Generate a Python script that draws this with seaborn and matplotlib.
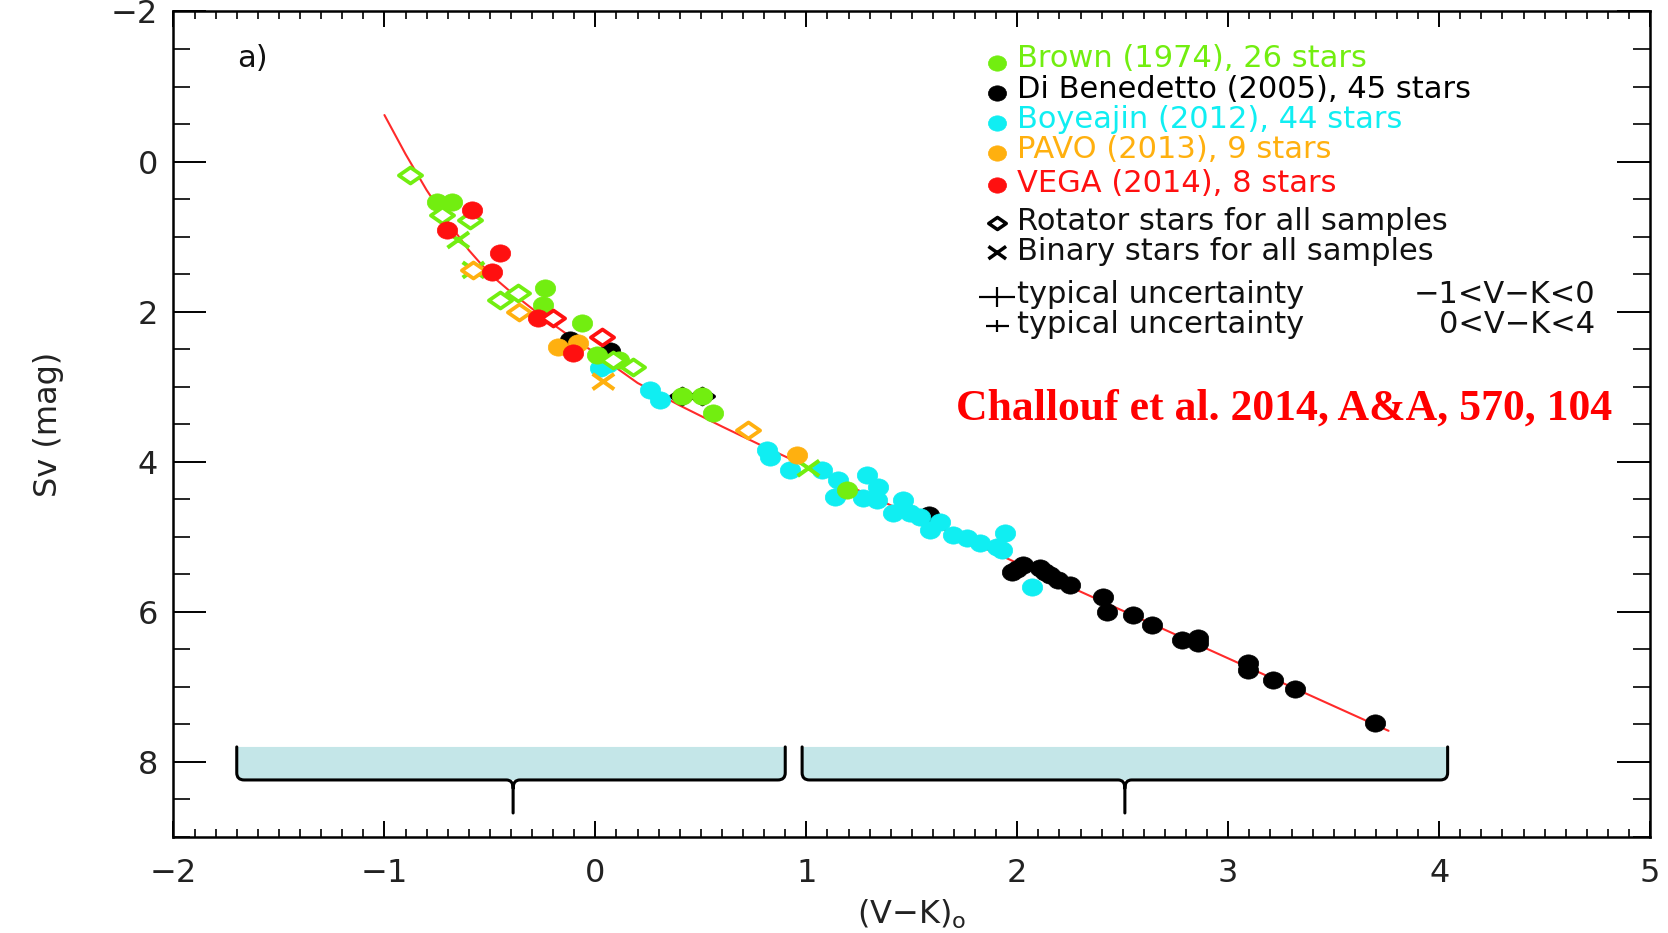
import numpy as np
import matplotlib
matplotlib.use("Agg")
import matplotlib.pyplot as plt
from matplotlib.path import Path
from matplotlib.patches import PathPatch
from matplotlib.markers import MarkerStyle
from matplotlib.ticker import MultipleLocator, FixedLocator
import seaborn as sns

# ---------------- data ----------------
# surface-brightness relation (fit curve)
fit_vk = [-1.00, -0.90, -0.80, -0.70, -0.60, -0.50, -0.40, -0.30, -0.20, -0.10,
          0.00, 0.20, 0.40, 0.60, 0.80, 1.00, 1.50, 2.00, 2.50, 3.00, 3.50, 3.76]
fit_sv = [-0.62, -0.10, 0.38, 0.80, 1.18, 1.50, 1.74, 1.96, 2.17, 2.37,
          2.55, 2.95, 3.25, 3.53, 3.80, 4.06, 4.71, 5.35, 5.985, 6.62, 7.255, 7.585]

# Brown (1974)
brown_x = [-0.752, -0.681, -0.238, -0.249, -0.064, 0.007, 0.110, 0.410, 0.504, 0.559, 1.191]
brown_y = [0.534, 0.534, 1.688, 1.911, 2.155, 2.577, 2.640, 3.123, 3.123, 3.354, 4.376]
brown_rot_x = [-0.878, -0.728, -0.594, -0.450, -0.366, 0.085, 0.180]
brown_rot_y = [0.179, 0.712, 0.778, 1.840, 1.750, 2.643, 2.733]
brown_bin_x = [-0.650, -0.578, 1.010]
brown_bin_y = [1.045, 1.444, 4.087]

# Di Benedetto (2005)
dib_x = [-0.120, 0.070, 1.580, 1.974, 2.000, 2.029, 2.108, 2.130, 2.156, 2.195, 2.250,
         2.408, 2.424, 2.550, 2.638, 2.780, 2.859, 2.859, 3.096, 3.096, 3.214, 3.317, 3.696]
dib_y = [2.380, 2.530, 4.710, 5.464, 5.430, 5.375, 5.420, 5.470, 5.508, 5.575, 5.640,
         5.797, 5.997, 6.041, 6.175, 6.374, 6.352, 6.418, 6.685, 6.774, 6.907, 7.031, 7.476]
dib_rot_x = [0.410, 0.504]
dib_rot_y = [3.123, 3.123]

# Boyajian (2012)
boy_x = [0.022, 0.060, 0.259, 0.306, 0.813, 0.828, 0.923, 1.073, 1.152, 1.136, 1.287,
         1.342, 1.270, 1.334, 1.460, 1.413, 1.492, 1.539, 1.634, 1.586, 1.697, 1.761,
         1.824, 1.903, 1.942, 1.927, 2.069]
boy_y = [2.754, 2.700, 3.044, 3.177, 3.843, 3.932, 4.110, 4.110, 4.243, 4.465, 4.176,
         4.332, 4.487, 4.509, 4.509, 4.686, 4.686, 4.731, 4.798, 4.909, 4.975, 5.020,
         5.086, 5.131, 4.953, 5.175, 5.664]

# PAVO (2013)
pavo_x = [-0.175, -0.081, 0.955]
pavo_y = [2.466, 2.421, 3.909]
pavo_rot_x = [-0.578, -0.360, 0.725]
pavo_rot_y = [1.444, 2.000, 3.576]
pavo_bin_x = [0.038]
pavo_bin_y = [2.932]

# VEGA (2014)
vega_x = [-0.586, -0.705, -0.452, -0.491, -0.270, -0.104]
vega_y = [0.645, 0.911, 1.222, 1.467, 2.088, 2.554]
vega_rot_x = [-0.199, 0.030]
vega_rot_y = [2.088, 2.333]

# key
key_labels = ["Brown (1974), 26 stars", "Di Benedetto (2005), 45 stars",
              "Boyeajin (2012), 44 stars", "PAVO (2013), 9 stars", "VEGA (2014), 8 stars"]
key_text_y = [-1.257, -0.843, -0.444, -0.044, 0.401]
key_mark_y = [-1.31, -0.91, -0.51, -0.11, 0.312]
flag_labels = ["Rotator stars for all samples", "Binary stars for all samples"]
flag_text_y = [0.911, 1.311]
flag_mark_y = [0.814, 1.214]
unc_ranges = ["\u22121<V\u2212K<0", "0<V\u2212K<4"]
unc_text_y = [1.888, 2.280]
unc_mark_y = [1.800, 2.190]
unc_dx = [0.085, 0.055]
unc_dy = [0.133, 0.075]

# V-K ranges of the two relations
brace_lo = [-1.70, 0.98]
brace_hi = [0.90, 4.04]
brace_mid = [-0.39, 2.51]

GREEN = "#72ee10"
BLACK = "#000000"
CYAN = "#10eef2"
ORANGE = "#ffb00f"
RED = "#ff1010"

# ---------------- style ----------------
sns.set_theme(style="ticks")
plt.rcParams.update({
    "font.family": ["DejaVu Sans"],
    "axes.edgecolor": "black",
    "axes.linewidth": 1.8,
    "xtick.color": "black",
    "ytick.color": "black",
    "xtick.labelcolor": "#222222",
    "ytick.labelcolor": "#222222",
    "text.color": "#111111",
    "axes.labelcolor": "#222222",
})

fig = plt.figure(figsize=(16.68, 9.33), dpi=100)
fig.patch.set_facecolor("white")
ax = fig.add_axes([0.1040, 0.1029, 0.8853, 0.8848])
ax.set_facecolor("white")


def ellipse_marker(aspect):
    c = Path.unit_circle()
    return MarkerStyle(Path(c.vertices * np.array([aspect, 1.0]), c.codes))


def diamond_marker(aspect):
    v = [(0, 1), (aspect, 0), (0, -1), (-aspect, 0), (0, 1)]
    return MarkerStyle(Path(v, [Path.MOVETO, Path.LINETO, Path.LINETO, Path.LINETO, Path.CLOSEPOLY]))


def cross_marker(aspect):
    v = [(-aspect, -1), (aspect, 1), (-aspect, 1), (aspect, -1)]
    return MarkerStyle(Path(v, [Path.MOVETO, Path.LINETO, Path.MOVETO, Path.LINETO]))


DOT = ellipse_marker(1.18)
DIAM = diamond_marker(1.45)
CROSS = cross_marker(1.4)


def dots(xs, ys, color, z, s=215):
    sns.scatterplot(x=xs, y=ys, marker=DOT, s=s, facecolor=color, edgecolor=color,
                    linewidth=0.5, zorder=z, ax=ax, legend=False)


def diamonds(xs, ys, color, z, s=280):
    sns.scatterplot(x=xs, y=ys, marker=DIAM, s=s, facecolor="white", edgecolor=color,
                    linewidth=2.7, zorder=z, ax=ax, legend=False)


def crosses(xs, ys, color, z, s=240):
    sns.scatterplot(x=xs, y=ys, marker=CROSS, s=s, facecolor="none", edgecolor=color,
                    linewidth=2.9, zorder=z, ax=ax, legend=False)


# fit curve
sns.lineplot(x=fit_vk, y=fit_sv, sort=False, estimator=None, color="#ff2a2a",
             linewidth=1.5, zorder=2, ax=ax)

# samples
diamonds(dib_rot_x, dib_rot_y, BLACK, 3)
dots(dib_x, dib_y, BLACK, 3)
dots(boy_x, boy_y, CYAN, 4)
dots(brown_x, brown_y, GREEN, 5)
diamonds(brown_rot_x, brown_rot_y, GREEN, 5)
crosses(brown_bin_x, brown_bin_y, GREEN, 5)
dots(pavo_x, pavo_y, ORANGE, 6)
diamonds(pavo_rot_x, pavo_rot_y, ORANGE, 6)
crosses(pavo_bin_x, pavo_bin_y, ORANGE, 8)
dots(vega_x, vega_y, RED, 7)
diamonds(vega_rot_x, vega_rot_y, RED, 7)

# key
KEY_X_MARK, KEY_X_TEXT = 1.905, 2.00
KEY_FS = 22
for lab, ty, my, col in zip(key_labels, key_text_y, key_mark_y,
                            [GREEN, BLACK, CYAN, ORANGE, RED]):
    dots([KEY_X_MARK], [my], col, 9, s=170)
    ax.text(KEY_X_TEXT, ty, lab, color=col, fontsize=KEY_FS, va="baseline", ha="left", zorder=9)

sns.scatterplot(x=[KEY_X_MARK], y=[flag_mark_y[0]], marker=DIAM, s=160, facecolor="white",
                edgecolor=BLACK, linewidth=2.5, zorder=9, ax=ax, legend=False)
sns.scatterplot(x=[KEY_X_MARK], y=[flag_mark_y[1]], marker=CROSS, s=160, facecolor="none",
                edgecolor=BLACK, linewidth=2.5, zorder=9, ax=ax, legend=False)
for lab, ty in zip(flag_labels, flag_text_y):
    ax.text(KEY_X_TEXT, ty, lab, fontsize=KEY_FS, va="baseline", ha="left", zorder=9)

for my, dx, dy, ty, rng in zip(unc_mark_y, unc_dx, unc_dy, unc_text_y, unc_ranges):
    ax.errorbar([KEY_X_MARK], [my], xerr=[dx], yerr=[dy], fmt="none", ecolor=BLACK,
                elinewidth=1.6, capsize=0, zorder=9)
    ax.text(KEY_X_TEXT, ty, "typical uncertainty", fontsize=KEY_FS,
            va="baseline", ha="left", zorder=9)
    ax.text(4.74, ty, rng, fontsize=KEY_FS, va="baseline", ha="right", zorder=9)

# reference and panel tag
ax.text(1.708, 3.443, "Challouf et al. 2014, A&A, 570, 104", color="#ff0000",
        fontsize=31.5, fontweight="bold", family=["Liberation Serif", "DejaVu Serif"],
        va="baseline", ha="left", zorder=9)
ax.text(-1.70, -1.264, "a)", fontsize=22, va="baseline", ha="left")

# braces marking the two V-K ranges
TOP, BASE, TIP = 7.80, 8.24, 8.68
RX, RY = 0.035, 0.095
SX, SY = 0.032, 0.11
for x0, x1, xm in zip(brace_lo, brace_hi, brace_mid):
    fill = Path([(x0, TOP), (x0, BASE - RY), (x0, BASE), (x0 + RX, BASE),
                 (x1 - RX, BASE), (x1, BASE), (x1, BASE - RY), (x1, TOP), (x0, TOP)],
                [Path.MOVETO, Path.LINETO, Path.CURVE3, Path.CURVE3,
                 Path.LINETO, Path.CURVE3, Path.CURVE3, Path.LINETO, Path.CLOSEPOLY])
    ax.add_patch(PathPatch(fill, facecolor="#c4e6e8", edgecolor="none", zorder=1))
    edge = Path([(x0, TOP), (x0, BASE - RY), (x0, BASE), (x0 + RX, BASE),
                 (xm - SX, BASE), (xm, BASE), (xm, BASE + SY), (xm, TIP),
                 (xm, BASE + SY), (xm, BASE), (xm + SX, BASE),
                 (x1 - RX, BASE), (x1, BASE), (x1, BASE - RY), (x1, TOP)],
                [Path.MOVETO, Path.LINETO, Path.CURVE3, Path.CURVE3,
                 Path.LINETO, Path.CURVE3, Path.CURVE3, Path.LINETO,
                 Path.MOVETO, Path.CURVE3, Path.CURVE3,
                 Path.LINETO, Path.CURVE3, Path.CURVE3, Path.LINETO])
    ax.add_patch(PathPatch(edge, facecolor="none", edgecolor="black", linewidth=2.2,
                           capstyle="round", joinstyle="round", zorder=1.5))

# axes
ax.set_xlim(-2, 5)
ax.set_ylim(9, -2)
ax.xaxis.set_major_locator(MultipleLocator(1))
ax.xaxis.set_minor_locator(MultipleLocator(0.1))
ax.yaxis.set_major_locator(FixedLocator([-2, 0, 2, 4, 6, 8]))
ax.yaxis.set_minor_locator(MultipleLocator(0.5))
for s in ax.spines.values():
    s.set_visible(True)
    s.set_linewidth(1.8)
    s.set_color("black")
ax.tick_params(axis="x", which="both", direction="in", top=True, bottom=True,
               labelsize=23, pad=15, width=1.4)
ax.tick_params(axis="x", which="major", length=11.5)
ax.tick_params(axis="x", which="minor", length=5.8, width=1.2)
ax.tick_params(axis="y", which="both", direction="in", left=True, right=True,
               labelsize=23, pad=11, width=1.4)
ax.tick_params(axis="y", which="major", length=24)
ax.tick_params(axis="y", which="minor", length=12, width=1.2)

ax.set_xlabel("(V\u2212K)$_\\mathregular{o}$", fontsize=23)
ax.set_ylabel("Sv (mag)", fontsize=23)
ax.xaxis.set_label_coords(0.5, -0.073)
ax.yaxis.set_label_coords(-0.074, 0.5)

fig.savefig("out.png", dpi=100, facecolor="white")
